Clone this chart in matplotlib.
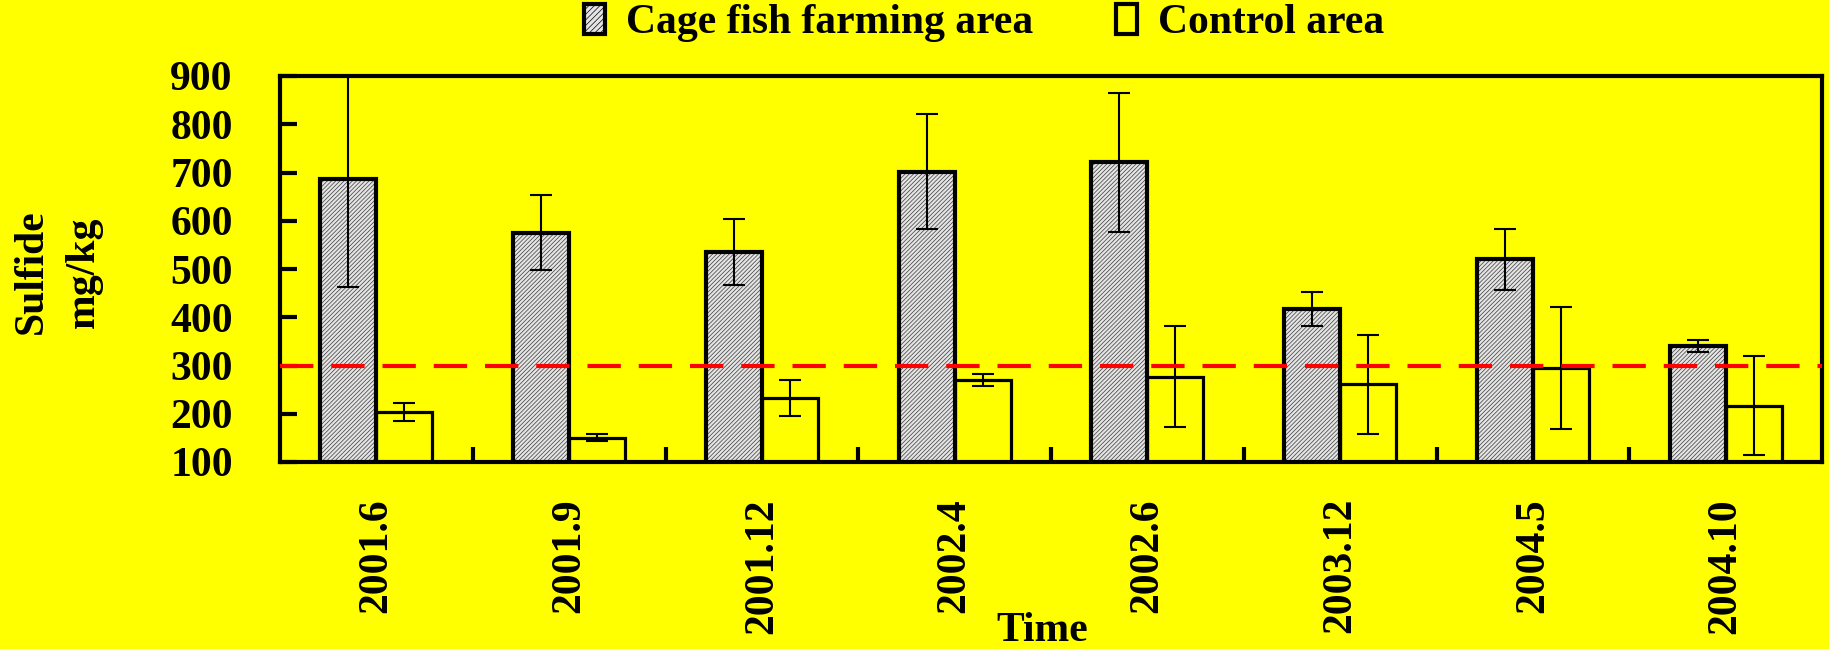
import numpy as np
import matplotlib.pyplot as plt
from matplotlib.patches import Patch

plt.rcParams['font.family'] = 'Liberation Serif'
plt.rcParams['font.weight'] = 'bold'
plt.rcParams['hatch.linewidth'] = 0.5

# sulfide content (mg/kg), mean and deviation per sampling time
periods = ['2001.6', '2001.9', '2001.12', '2002.4', '2002.6', '2003.12', '2004.5', '2004.10']
cage_mean = [687, 575, 535, 702, 721, 417, 520, 341]
cage_err = [225, 78, 68, 120, 144, 35, 63, 12]
ctrl_mean = [203, 150, 232, 270, 277, 261, 295, 217]
ctrl_err = [19, 7, 37, 12, 105, 102, 127, 103]
limit = 300

bg = '#ffff00'
W, H = 1829, 649
fig = plt.figure(figsize=(W / 100, H / 100), dpi=100, facecolor=bg)
ax = fig.add_axes([280 / W, 1 - 462 / H, (1822 - 280) / W, (462 - 76) / H])
ax.set_facecolor(bg)

x = np.arange(len(periods))
w = 0.29

# cage bars: fine hatched grey fill, then a thick black outline on top
ax.bar(x - w / 2, cage_mean, w, color='#e4e4e4', hatch='////////',
       edgecolor='#3a3a3a', linewidth=0, zorder=2)
ax.bar(x - w / 2, cage_mean, w, fill=False, edgecolor='black', linewidth=3, zorder=3)
ax.bar(x + w / 2, ctrl_mean, w, fill=False, edgecolor='black', linewidth=2.3, zorder=3)

eb = dict(fmt='none', ecolor='black', elinewidth=1.5, capsize=8, capthick=1.5, zorder=4)
ax.errorbar(x - w / 2, cage_mean, yerr=cage_err, **eb)
ax.errorbar(x + w / 2, ctrl_mean, yerr=ctrl_err, **eb)

ax.axhline(limit, color='red', lw=3, dashes=(8, 4.3), zorder=5)

ax.set_xlim(-0.5, len(periods) - 0.5)
ax.set_ylim(100, 900)
ax.set_yticks(range(100, 1000, 100))
ax.tick_params(axis='y', direction='in', length=12, width=3, pad=34, labelsize=30)
ax.set_xticks(x)
ax.set_xticklabels(periods, rotation=90, fontsize=30)
ax.tick_params(axis='x', which='major', length=0, pad=26)
ax.set_xticks(x[:-1] + 0.5, minor=True)
ax.tick_params(axis='x', which='minor', direction='in', length=11, width=3)
for s in ax.spines.values():
    s.set_linewidth(3)

fig.text(58 / W, 1 - 272 / H, 'Sulfide\nmg/kg', rotation=90, ha='center', va='center',
         multialignment='center', fontsize=30, linespacing=1.5)
fig.text(1042 / W, 8 / H, 'Time', ha='center', va='baseline', fontsize=30)

handles = [Patch(facecolor='#e4e4e4', hatch='//////', edgecolor='black', linewidth=3),
           Patch(facecolor='none', edgecolor='black', linewidth=3)]
fig.legend(handles, ['Cage fish farming area', 'Control area'], loc='center',
           bbox_to_anchor=(984 / W, 1 - 23 / H), ncol=2, frameon=False, fontsize=30,
           handlelength=0.5, handleheight=0.75, handletextpad=0.5, columnspacing=2.0,
           borderpad=0)

fig.savefig('out.png', dpi=100, facecolor=bg)
